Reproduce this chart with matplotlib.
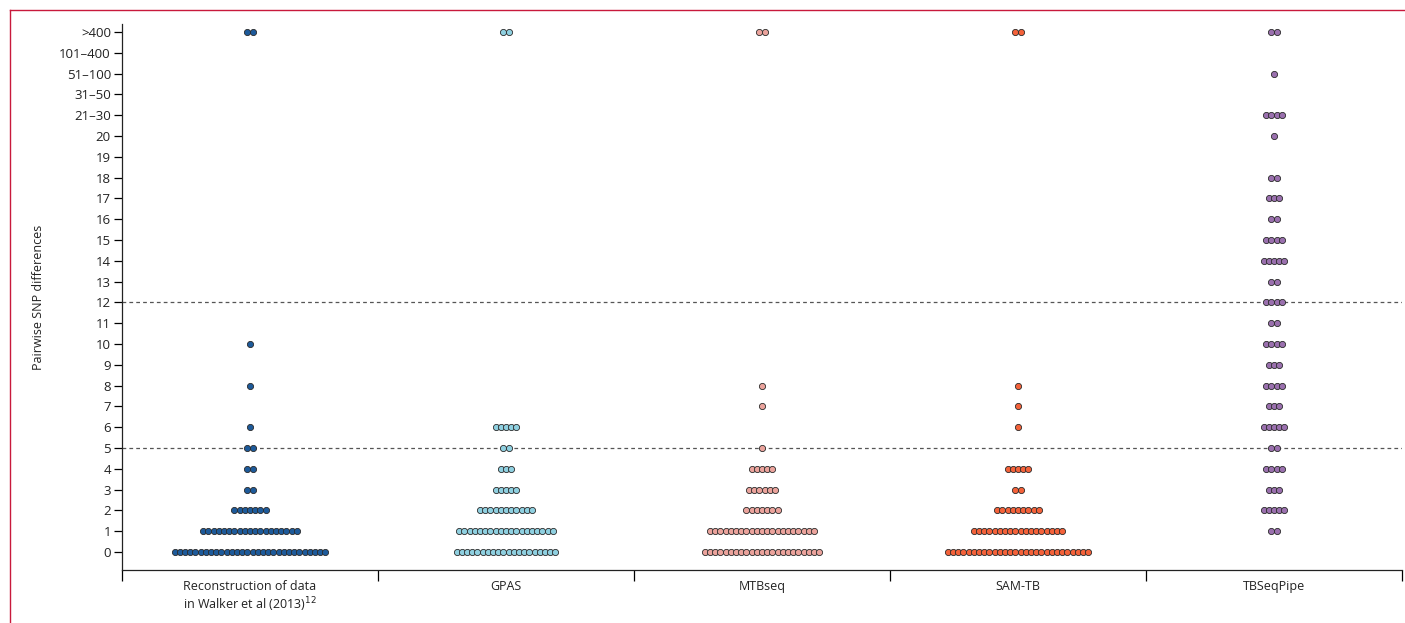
import matplotlib
matplotlib.use("Agg")
import matplotlib.pyplot as plt
from matplotlib.lines import Line2D
import numpy as np

plt.rcParams['font.family'] = ['Open Sans', 'DejaVu Sans']

# y categories (bottom to top)
y_labels = [str(i) for i in range(0, 21)] + ["21\u201330", "31\u201350", "51\u2013100", "101\u2013400", ">400"]

groups = ["Reconstruction of data\nin Walker et al (2013)$^{12}$", "GPAS", "MTBseq", "SAM-TB", "TBSeqPipe"]
colors = ["#1d5a9a", "#8fd0e0", "#eba39c", "#f4623a", "#9a70ae"]

# number of pairs per y category (index = position in y_labels)
walker = [30, 19, 7, 2, 2, 2, 1, 0, 1, 0, 1, 0, 0, 0, 0, 0, 0, 0, 0, 0, 0, 0, 0, 0, 0, 2]
gpas   = [20, 19, 11, 5, 3, 2, 5, 0, 0, 0, 0, 0, 0, 0, 0, 0, 0, 0, 0, 0, 0, 0, 0, 0, 0, 2]
mtbseq = [23, 21, 7, 6, 5, 1, 0, 1, 1, 0, 0, 0, 0, 0, 0, 0, 0, 0, 0, 0, 0, 0, 0, 0, 0, 2]
samtb  = [28, 18, 9, 2, 5, 0, 1, 1, 1, 0, 0, 0, 0, 0, 0, 0, 0, 0, 0, 0, 0, 0, 0, 0, 0, 2]
tbseq  = [0, 2, 5, 3, 4, 2, 5, 3, 4, 3, 4, 2, 4, 2, 5, 4, 2, 3, 2, 0, 1, 4, 0, 1, 0, 2]
counts = [walker, gpas, mtbseq, samtb, tbseq]

thresholds = [5, 12]

fig = plt.figure(figsize=(14.05, 6.23), dpi=100)
ax = fig.add_axes([122/1405, 53/623, 1280/1405, 546/623])

step = 5.2 / 256.0  # dot spacing in data units (one group = 256 px)
for gi, (cnt, col) in enumerate(zip(counts, colors)):
    xs, ys = [], []
    for yi, n in enumerate(cnt):
        for k in range(n):
            xs.append(gi + (k - (n - 1) / 2.0) * step)
            ys.append(yi)
    ax.scatter(xs, ys, s=20, c=col, edgecolors="#2a2a2a", linewidths=0.6, zorder=3, clip_on=False)

for t in thresholds:
    ax.axhline(t, color="#555555", lw=0.9, ls=(0, (3, 2.5)), zorder=1)

ax.set_xlim(-0.5, 4.5)
ax.set_ylim(-0.865, 25.385)
ax.set_yticks(range(len(y_labels)))
ax.set_yticklabels(y_labels, fontsize=9.5, color="#222222")
ax.set_xticks(np.arange(-0.5, 4.6, 1.0))
ax.set_xticklabels([])
ax.set_xticks(range(len(groups)), minor=True)
ax.set_xticklabels(groups, minor=True, fontsize=9, color="#222222")
ax.tick_params(axis='x', which='minor', length=0, pad=7)
ax.tick_params(axis='x', which='major', length=8, width=0.9, direction='out')
ax.tick_params(axis='y', length=6, width=0.9, direction='out', pad=2)
for s in ["top", "right"]:
    ax.spines[s].set_visible(False)
for s in ["left", "bottom"]:
    ax.spines[s].set_linewidth(0.9)
    ax.spines[s].set_color("#222222")

ax.set_ylabel("Pairwise SNP differences", fontsize=9, color="#222222", labelpad=10)

# journal frame lines
red = "#c8193c"
fig.add_artist(Line2D([10/1405, 1.0], [1 - 10/623, 1 - 10/623], transform=fig.transFigure, color=red, lw=1.0))
fig.add_artist(Line2D([10/1405, 10/1405], [0, 1 - 10/623], transform=fig.transFigure, color=red, lw=1.0))

fig.savefig("out.png", dpi=100)
